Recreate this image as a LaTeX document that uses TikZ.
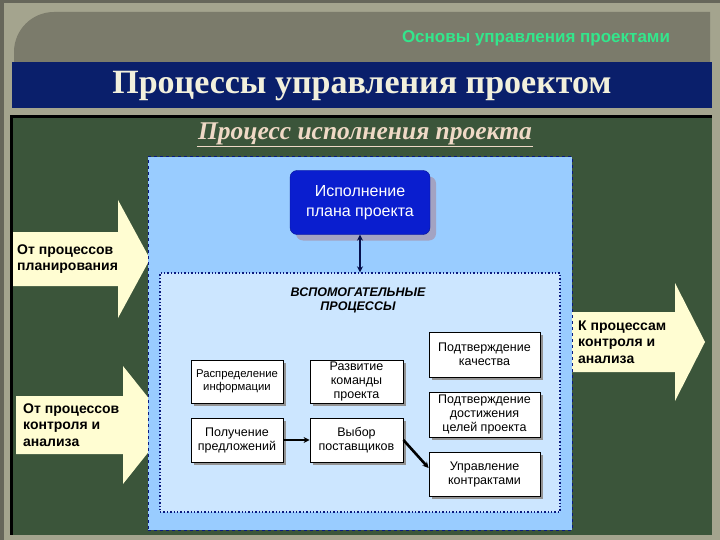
\documentclass[tikz,border=0pt]{standalone}
\usepackage{fontspec}
\setmainfont{Liberation Sans}
\newfontfamily\serifbf{Liberation Serif}
\usetikzlibrary{arrows.meta, shadows}
\definecolor{frameLight}{HTML}{A4A48E}
\definecolor{frameDark}{HTML}{66665A}
\definecolor{headPanel}{HTML}{7B7B6B}
\definecolor{navyband}{HTML}{0A1F6B}
\definecolor{bggreen}{HTML}{3B553A}
\definecolor{headText}{HTML}{33E68C}
\definecolor{titleText}{HTML}{F2F0DC}
\definecolor{subText}{HTML}{EFD9C6}
\definecolor{blueOuter}{HTML}{99CCFF}
\definecolor{blueInner}{HTML}{CCE6FF}
\definecolor{navyBorder}{HTML}{0A1A80}
\definecolor{execBlue}{HTML}{0A1ECF}
\definecolor{cream}{HTML}{FFFDD2}
\tikzset{
  procbox/.style={draw=black, line width=0.8pt, fill=white, align=center,
    font=\fontsize{12.5}{14}\selectfont, inner sep=2pt,
    drop shadow={shadow xshift=3pt, shadow yshift=-3pt, fill=gray!85, opacity=1}},
  blockarrow/.style={fill=cream, draw=none},
  arrowtext/.style={font=\bfseries\fontsize{14}{16.5}\selectfont, align=left, anchor=west, text=black, inner sep=0pt},
  flowline/.style={line width=2.6pt, -{Stealth[length=6pt,width=6pt]}}
}
\begin{document}
\begin{tikzpicture}[x=1pt, y=-1pt]
\useasboundingbox (0,0) rectangle (720,540);
% frame
\fill[frameLight] (0,0) rectangle (720,540);
\fill[frameDark] (0,0) rectangle (4,540);
\fill[frameDark] (0,0) rectangle (720,3);
\fill[headPanel] (14,62) -- (14,52) arc[start angle=180, end angle=270, radius=40] -- (710,12) -- (710,62) -- cycle;
\node[font=\bfseries\fontsize{17}{20}\selectfont, text=headText] (head) at (536,38) {Основы управления проектами};
\fill[navyband] (12,62) rectangle (712,108);
\node[font=\serifbf\bfseries\fontsize{34}{38}\selectfont, text=titleText] (title) at (362,86) {Процессы управления проектом};
% green panel
\fill[bggreen] (10,116) rectangle (712,535);
\fill[black] (10,115) rectangle (712,118);
\fill[black] (10,115) rectangle (13,535);
\node[font=\serifbf\bfseries\itshape\fontsize{25.5}{28}\selectfont, text=subText, inner sep=1pt] (sub) at (365,134) {Процесс исполнения проекта};
\draw[subText, line width=1.4pt] (sub.south west) -- (sub.south east);
% block arrows
\fill[blockarrow] (13,232) -- (118,232) -- (118,200) -- (150,259) -- (118,318) -- (118,286) -- (13,286) -- cycle;
\node[arrowtext] (ar1) at (17,259) {От процессов\\планирования};
\fill[blockarrow] (16,396) -- (123,396) -- (123,366) -- (170,425) -- (123,484) -- (123,454) -- (16,454) -- cycle;
\node[arrowtext] (ar2) at (23,425) {От процессов\\контроля и\\анализа};
\fill[blockarrow] (565,312) -- (675,312) -- (675,283) -- (705,342) -- (675,401) -- (675,372) -- (565,372) -- cycle;
\node[arrowtext] (ar3) at (578,342) {К процессам\\контроля и\\анализа};
% outer & inner boxes
\node[draw=navyBorder, dashed, line width=1pt, fill=blueOuter, minimum width=424pt, minimum height=373pt, inner sep=0pt] (outer) at (360,343.5) {};
\node[draw=navyBorder, dotted, line width=1.4pt, fill=blueInner, minimum width=400pt, minimum height=239pt, inner sep=0pt] (aux) at (360,392.5) {};
\node[font=\bfseries\itshape\fontsize{12.5}{14}\selectfont, align=center] (auxlbl) at (358,300) {ВСПОМОГАТЕЛЬНЫЕ\\ПРОЦЕССЫ};
% exec node
\node[fill=execBlue, draw=execBlue!70!black, rounded corners=7pt, minimum width=140pt, minimum height=64pt, text=white, align=center,
  font=\fontsize{16}{20}\selectfont,
  drop shadow={shadow xshift=6pt, shadow yshift=-6pt, fill=gray!80!blue!60!white, opacity=1}] (exec) at (360,202.5) {Исполнение\\плана проекта};
\draw[line width=2pt, {Stealth[length=6pt,width=6pt]}-{Stealth[length=6pt,width=6pt]}, navyBorder!60!black] (exec.south) -- (aux.north);
% process boxes
\node[procbox, minimum width=92pt, minimum height=43pt, font=\fontsize{11.3}{13.5}\selectfont] (raspr) at (237,381.5) {Распределение\\информации};
\node[procbox, minimum width=93pt, minimum height=43pt] (razv) at (356.5,381.5) {Развитие\\команды\\проекта};
\node[procbox, minimum width=111pt, minimum height=45pt] (kach) at (484.5,354.5) {Подтверждение\\качества};
\node[procbox, minimum width=111pt, minimum height=45pt] (celi) at (484.5,414.5) {Подтверждение\\достижения\\целей проекта};
\node[procbox, minimum width=92pt, minimum height=44pt] (polu) at (237,440) {Получение\\предложений};
\node[procbox, minimum width=93pt, minimum height=44pt] (vybor) at (356.5,440) {Выбор\\поставщиков};
\node[procbox, minimum width=111pt, minimum height=44pt] (upr) at (484.5,474) {Управление\\контрактами};
\draw[flowline] (polu.east) -- (vybor.west);
\draw[flowline] (vybor.east) -- ([yshift=6pt]upr.west);
\end{tikzpicture}
\end{document}
